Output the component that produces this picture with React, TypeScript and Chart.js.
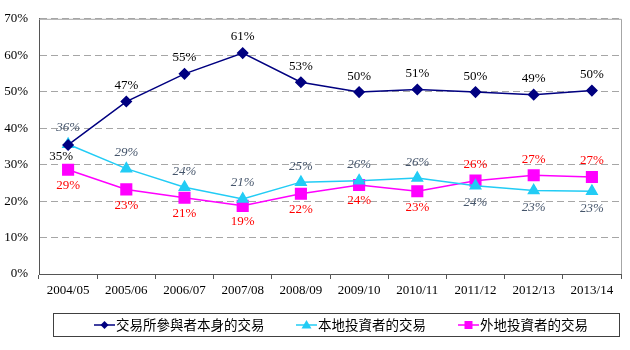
import React, { useEffect, useRef } from "react";
import { Chart, registerables } from "chart.js";

Chart.register(...registerables);

const categories = ["2004/05", "2005/06", "2006/07", "2007/08", "2008/09", "2009/10", "2010/11", "2011/12", "2012/13", "2013/14"];
const seriesNames = ["交易所參與者本身的交易", "本地投資者的交易", "外地投資者的交易"];
const participants = [35.4, 47.3, 54.9, 60.6, 52.6, 49.9, 50.6, 49.9, 49.2, 50.3];
const localInvestors = [35.6, 28.9, 23.8, 20.6, 25.2, 25.6, 26.3, 24.2, 22.9, 22.7];
const overseasInvestors = [28.6, 23.2, 20.9, 18.7, 22.0, 24.4, 22.7, 25.6, 27.1, 26.6];
const yTicks = [0, 10, 20, 30, 40, 50, 60, 70];

// label placement (style config): [dx, dy] relative to point
const place1 = [[-7, 12], [0, -16], [0, -16], [0, -16], [0, -16], [0, -16], [0, -16], [0, -16], [0, -16], [0, -16]];
const place2 = [[0, -17], [0, -16], [0, -16], [0, -16], [0, -16], [0, -16], [0, -16], [0, 17], [0, 17], [0, 17]];
const place3 = [[0, 16], [0, 16], [0, 16], [0, 16], [0, 16], [0, 16], [0, 16], [0, -16], [0, -16], [0, -16]];
// legend item x positions (layout)
const legendX = [94, 296, 458];

const SERIF = "'Liberation Serif', 'Times New Roman', serif";
const CJK = "'Noto Sans CJK TC', 'Noto Sans CJK SC', sans-serif";

const labelStyles = [
  { color: "#000000", italic: false, place: place1 },
  { color: "#44546A", italic: true, place: place2 },
  { color: "#FF0000", italic: false, place: place3 },
];

const labelPlugin = {
  id: "valueLabels",
  afterDatasetsDraw(chart: any) {
    const ctx = chart.ctx;
    ctx.save();
    ctx.textAlign = "center";
    ctx.textBaseline = "middle";
    chart.data.datasets.forEach((ds: any, di: number) => {
      const meta = chart.getDatasetMeta(di);
      const st = labelStyles[di];
      ctx.fillStyle = st.color;
      ctx.font = (st.italic ? "italic " : "") + "13px " + SERIF;
      meta.data.forEach((pt: any, i: number) => {
        const v = ds.data[i];
        const [dx, dy] = st.place[i];
        ctx.fillText(Math.round(v) + "%", pt.x + dx, pt.y + dy);
      });
    });
    ctx.restore();
  },
};

const framePlugin = {
  id: "frame",
  beforeDatasetsDraw(chart: any) {
    const { ctx, chartArea } = chart;
    ctx.save();
    ctx.strokeStyle = "#A6A6A6";
    ctx.lineWidth = 1;
    ctx.beginPath();
    ctx.moveTo(chartArea.left, chartArea.top + 0.5);
    ctx.lineTo(chartArea.right + 0.5, chartArea.top + 0.5);
    ctx.lineTo(chartArea.right + 0.5, chartArea.bottom);
    ctx.stroke();
    ctx.restore();
  },
};

const legendPlugin = {
  id: "boxLegend",
  afterDraw(chart: any) {
    const ctx = chart.ctx;
    const boxL = 53.5, boxT = 313.5, boxR = 619.5, boxB = 336.5;
    ctx.save();
    ctx.strokeStyle = "#404040";
    ctx.lineWidth = 1;
    ctx.strokeRect(boxL, boxT, boxR - boxL, boxB - boxT);
    ctx.font = "13.5px " + CJK;
    const lineW = 21, textGap = 1;
    const cy = 325;
    chart.data.datasets.forEach((ds: any, i: number) => {
      const x = legendX[i];
      ctx.strokeStyle = ds.borderColor;
      ctx.lineWidth = 1.5;
      ctx.beginPath();
      ctx.moveTo(x, cy);
      ctx.lineTo(x + lineW, cy);
      ctx.stroke();
      ctx.fillStyle = ds.backgroundColor;
      ctx.beginPath();
      const mx = x + lineW / 2;
      if (ds.pointStyle === "rectRot") {
        ctx.moveTo(mx, cy - 4); ctx.lineTo(mx + 4, cy); ctx.lineTo(mx, cy + 4); ctx.lineTo(mx - 4, cy);
      } else if (ds.pointStyle === "triangle") {
        ctx.moveTo(mx, cy - 5); ctx.lineTo(mx + 5, cy + 3.5); ctx.lineTo(mx - 5, cy + 3.5);
      } else {
        ctx.rect(mx - 4, cy - 4, 8, 8);
      }
      ctx.closePath();
      ctx.fill();
      ctx.fillStyle = "#000000";
      ctx.textAlign = "left";
      ctx.textBaseline = "middle";
      ctx.fillText(seriesNames[i], x + lineW + textGap, cy);
    });
    ctx.restore();
  },
};

export default function App() {
  const ref = useRef<HTMLCanvasElement>(null);
  useEffect(() => {
    document.body.style.margin = "0";
    const chart = new Chart(ref.current!, {
      type: "line",
      data: {
        labels: categories,
        datasets: [
          {
            label: seriesNames[0],
            data: participants,
            borderColor: "#000080",
            backgroundColor: "#000080",
            pointStyle: "rectRot",
            pointRadius: 5,
            borderWidth: 1.5,
            tension: 0,
          },
          {
            label: seriesNames[1],
            data: localInvestors,
            borderColor: "#22CCF5",
            backgroundColor: "#22CCF5",
            pointStyle: "triangle",
            pointRadius: 6,
            borderWidth: 1.5,
            tension: 0,
          },
          {
            label: seriesNames[2],
            data: overseasInvestors,
            borderColor: "#FF00FF",
            backgroundColor: "#FF00FF",
            pointStyle: "rect",
            pointRadius: 7.5,
            borderWidth: 1.5,
            tension: 0,
          },
        ] as any,
      },
      options: {
        animation: false,
        responsive: false,
        layout: { padding: { left: 0, top: 17, right: 3, bottom: 0 } },
        plugins: { legend: { display: false }, tooltip: { enabled: false } },
        scales: {
          x: {
            offset: true,
            grid: { offset: true, drawOnChartArea: false, drawTicks: true, tickLength: 5, color: "#555555" },
            border: { color: "#555555" },
            ticks: { color: "#000000", font: { family: SERIF, size: 13 }, padding: 4, maxRotation: 0, autoSkip: false },
            afterFit: (s: any) => { s.height = 76; },
          },
          y: {
            min: 0,
            max: 70,
            afterBuildTicks: (s: any) => { s.ticks = yTicks.map((v) => ({ value: v })); },
            grid: { color: "#A6A6A6", drawTicks: false },
            border: { color: "#555555", dash: [7, 4] },
            ticks: { color: "#000000", font: { family: SERIF, size: 13 }, padding: 11, callback: (v: any) => v + "%" },
            afterFit: (s: any) => { s.width = 39; },
          },
        },
      },
      plugins: [framePlugin, labelPlugin, legendPlugin],
    });
    return () => chart.destroy();
  }, []);
  return <canvas ref={ref} width={630} height={350} style={{ display: "block" }} />;
}
